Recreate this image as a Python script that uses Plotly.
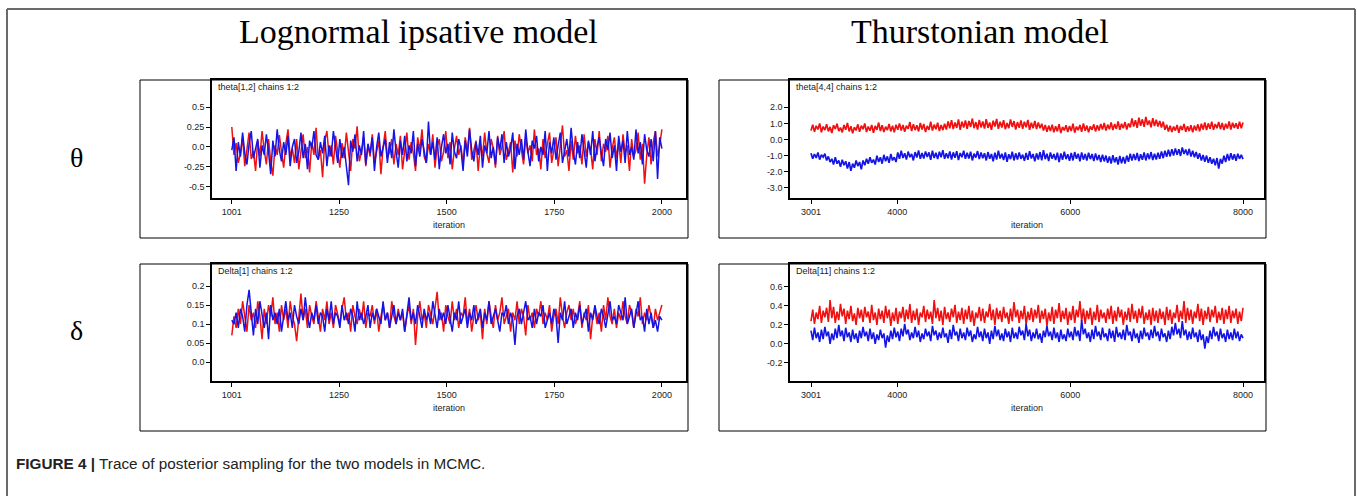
import numpy as np
import plotly.graph_objects as go

W, H = 1357, 496

# ---- thinned trace values, chain 1 = red, chain 2 = blue ----
# Lognormal ipsative model, iterations 1001-2000
theta12_chain1 = [
    0.25, -0.1, 0.05, -0.2, -0.08, 0.12, -0.24, -0.02, 0.18, -0.15,
    -0.05, -0.3, 0.08, -0.12, 0.2, -0.04, -0.22, 0.1, -0.18, -0.36,
    0.02, -0.1, 0.15, -0.06, -0.26, 0.04, 0.22, -0.12, -0.02, -0.2,
    0.1, -0.28, -0.08, 0.16, -0.14, 0.0, -0.32, 0.06, -0.1, 0.24,
    -0.16, -0.04, -0.38, 0.08, 0.2, -0.12, 0.02, -0.22, 0.14, -0.06,
    -0.26, 0.05, -0.14, 0.18, -0.1, -0.3, 0.1, -0.02, 0.26, -0.18,
    -0.06, 0.12, -0.24, 0.02, -0.12, 0.16, -0.2, -0.04, 0.08, -0.34,
    0.0, 0.2, -0.14, -0.06, 0.1, -0.22, 0.04, -0.1, 0.14, -0.28,
    -0.02, 0.18, -0.16, 0.06, -0.08, -0.3, 0.12, -0.04, 0.22, -0.12,
    -0.2, 0.04, -0.1, 0.16, -0.26, 0.0, 0.1, -0.18, -0.06, 0.2,
    -0.14, 0.06, -0.28, -0.02, 0.14, -0.1, 0.02, -0.22, 0.12, -0.06,
    0.24, -0.16, -0.04, 0.08, -0.3, 0.04, -0.12, 0.18, -0.08, -0.2,
    0.1, -0.02, -0.26, 0.14, -0.1, 0.0, 0.2, -0.16, -0.06, 0.06,
    -0.32, 0.08, -0.12, 0.16, -0.04, -0.22, 0.12, -0.08, 0.02, -0.18,
    0.22, -0.1, -0.02, -0.28, 0.1, -0.14, 0.04, 0.18, -0.2, -0.06,
    0.12, -0.24, 0.0, 0.27, -0.12, -0.04, -0.3, 0.08, -0.16, 0.14,
    -0.08, 0.02, -0.22, 0.16, -0.12, 0.06, -0.02, -0.28, 0.1, -0.1,
    0.2, -0.18, 0.04, -0.06, 0.14, -0.26, -0.02, 0.12, -0.14, 0.06,
    -0.2, 0.16, -0.08, 0.02, -0.3, 0.1, -0.12, -0.04, 0.18, -0.16,
    0.04, -0.46, -0.1, 0.12, -0.22, 0.06, 0.2, -0.12, 0.02, 0.22,
]
theta12_chain2 = [
    -0.04, 0.12, -0.3, 0.06, -0.12, 0.18, -0.08, -0.22, 0.04, 0.2,
    -0.14, -0.02, 0.1, -0.26, 0.02, -0.1, 0.16, -0.06, -0.34, 0.08,
    -0.12, 0.22, -0.04, -0.18, 0.06, -0.1, 0.14, -0.24, 0.0, 0.1,
    -0.2, -0.06, 0.18, -0.14, 0.04, -0.28, 0.08, -0.02, 0.2, -0.1,
    -0.16, 0.06, -0.08, 0.14, -0.24, 0.02, -0.12, 0.2, -0.04, -0.2,
    0.1, -0.14, 0.0, -0.26, -0.48, 0.08, -0.06, 0.16, -0.18, 0.02,
    -0.1, 0.2, -0.22, 0.04, -0.08, 0.12, -0.3, 0.0, 0.18, -0.12,
    -0.02, 0.1, -0.2, 0.06, -0.14, 0.22, -0.06, -0.26, 0.08, -0.1,
    0.14, -0.18, 0.02, -0.08, 0.2, -0.24, 0.04, -0.12, 0.1, -0.04,
    -0.2, 0.32, -0.1, 0.06, -0.16, 0.12, -0.28, 0.0, 0.16, -0.08,
    0.04, -0.22, 0.18, -0.06, -0.14, 0.1, -0.02, -0.3, 0.08, -0.12,
    0.22, -0.04, -0.18, 0.06, -0.1, 0.14, -0.26, 0.02, -0.08, 0.2,
    -0.14, 0.0, -0.22, 0.12, -0.04, 0.16, -0.2, 0.06, -0.12, -0.02,
    0.18, -0.28, 0.04, -0.1, 0.1, -0.16, 0.22, -0.06, -0.24, 0.08,
    -0.02, 0.14, -0.18, 0.0, -0.1, 0.2, -0.3, 0.06, -0.08, 0.12,
    -0.16, 0.02, 0.18, -0.2, -0.04, 0.1, -0.12, 0.24, -0.06, -0.22,
    0.06, -0.14, 0.16, -0.02, -0.26, 0.08, -0.1, 0.2, -0.18, 0.0,
    0.12, -0.08, -0.24, 0.1, -0.04, 0.18, -0.14, 0.02, -0.3, 0.14,
    -0.06, 0.08, -0.2, 0.2, -0.1, 0.0, -0.16, 0.22, -0.08, 0.06,
    -0.22, 0.16, -0.04, -0.12, 0.1, -0.18, 0.2, -0.4, 0.12, -0.02,
]
delta1_chain1 = [
    0.07, 0.12, 0.09, 0.14, 0.1, 0.16, 0.12, 0.08, 0.15, 0.11,
    0.13, 0.09, 0.16, 0.12, 0.06, 0.14, 0.1, 0.15, 0.12, 0.17,
    0.1, 0.13, 0.08, 0.15, 0.11, 0.14, 0.09, 0.16, 0.12, 0.1,
    0.055, 0.13, 0.18, 0.11, 0.14, 0.09, 0.15, 0.12, 0.1, 0.16,
    0.12, 0.08, 0.14, 0.11, 0.16, 0.1, 0.13, 0.09, 0.15, 0.12,
    0.1, 0.14, 0.17, 0.11, 0.13, 0.08, 0.15, 0.12, 0.1, 0.14,
    0.11, 0.16, 0.09, 0.13, 0.12, 0.15, 0.1, 0.14, 0.08, 0.12,
    0.15, 0.11, 0.13, 0.09, 0.16, 0.12, 0.1, 0.14, 0.11, 0.13,
    0.08, 0.12, 0.15, 0.1, 0.14, 0.045, 0.12, 0.16, 0.11, 0.13,
    0.09, 0.15, 0.12, 0.1, 0.14, 0.185, 0.11, 0.13, 0.08, 0.15,
    0.12, 0.1, 0.16, 0.11, 0.14, 0.09, 0.13, 0.12, 0.17, 0.1,
    0.14, 0.08, 0.12, 0.15, 0.11, 0.13, 0.06, 0.14, 0.1, 0.16,
    0.12, 0.09, 0.15, 0.11, 0.13, 0.17, 0.1, 0.12, 0.14, 0.08,
    0.13, 0.11, 0.16, 0.1, 0.14, 0.12, 0.07, 0.15, 0.11, 0.13,
    0.09, 0.14, 0.12, 0.16, 0.1, 0.13, 0.11, 0.15, 0.08, 0.12,
    0.14, 0.1, 0.17, 0.12, 0.09, 0.13, 0.15, 0.11, 0.14, 0.1,
    0.12, 0.16, 0.09, 0.13, 0.11, 0.15, 0.06, 0.12, 0.14, 0.1,
    0.13, 0.08, 0.15, 0.11, 0.17, 0.12, 0.1, 0.14, 0.09, 0.13,
    0.11, 0.16, 0.12, 0.1, 0.15, 0.13, 0.09, 0.14, 0.12, 0.17,
    0.1, 0.13, 0.11, 0.15, 0.12, 0.09, 0.14, 0.11, 0.13, 0.15,
]
delta1_chain2 = [
    0.11, 0.1, 0.13, 0.09, 0.14, 0.12, 0.08, 0.15, 0.19, 0.12,
    0.07, 0.14, 0.1, 0.16, 0.12, 0.09, 0.13, 0.06, 0.15, 0.11,
    0.13, 0.1, 0.14, 0.08, 0.12, 0.16, 0.11, 0.13, 0.09, 0.15,
    0.12, 0.1, 0.14, 0.11, 0.17, 0.12, 0.09, 0.13, 0.11, 0.15,
    0.1, 0.13, 0.12, 0.08, 0.14, 0.11, 0.16, 0.1, 0.13, 0.12,
    0.09, 0.15, 0.11, 0.13, 0.1, 0.14, 0.12, 0.08, 0.16, 0.11,
    0.13, 0.1, 0.12, 0.15, 0.09, 0.13, 0.11, 0.14, 0.12, 0.1,
    0.16, 0.11, 0.13, 0.09, 0.12, 0.15, 0.1, 0.13, 0.11, 0.14,
    0.08, 0.12, 0.17, 0.11, 0.13, 0.1, 0.15, 0.12, 0.09, 0.14,
    0.11, 0.13, 0.1, 0.16, 0.12, 0.09, 0.14, 0.11, 0.13, 0.1,
    0.15, 0.12, 0.08, 0.13, 0.11, 0.16, 0.1, 0.12, 0.14, 0.09,
    0.13, 0.11, 0.15, 0.1, 0.12, 0.14, 0.09, 0.13, 0.11, 0.16,
    0.1, 0.12, 0.14, 0.11, 0.08, 0.13, 0.12, 0.15, 0.1, 0.13,
    0.11, 0.045, 0.12, 0.14, 0.1, 0.13, 0.16, 0.11, 0.12, 0.09,
    0.14, 0.1, 0.13, 0.12, 0.15, 0.09, 0.11, 0.13, 0.1, 0.14,
    0.12, 0.05, 0.13, 0.11, 0.16, 0.1, 0.12, 0.14, 0.09, 0.13,
    0.11, 0.15, 0.1, 0.12, 0.14, 0.08, 0.13, 0.11, 0.15, 0.12,
    0.1, 0.14, 0.12, 0.09, 0.13, 0.16, 0.11, 0.12, 0.1, 0.15,
    0.13, 0.11, 0.17, 0.1, 0.12, 0.14, 0.09, 0.13, 0.16, 0.11,
    0.12, 0.08, 0.14, 0.1, 0.13, 0.09, 0.11, 0.08, 0.12, 0.11,
]
# Thurstonian model, iterations 3001-8000
theta44_chain1 = [
    0.55, 0.92, 0.48, 0.85, 0.62, 1.0, 0.45, 0.8, 0.58, 0.95,
    0.5, 0.78, 0.4, 0.88, 0.65, 0.98, 0.52, 0.74, 0.44, 0.9,
    0.6, 1.02, 0.5, 0.82, 0.38, 0.76, 0.56, 0.94, 0.48, 0.86,
    0.64, 0.99, 0.46, 0.8, 0.54, 0.9, 0.42, 0.84, 0.6, 1.05,
    0.52, 0.88, 0.47, 0.79, 0.58, 0.96, 0.5, 0.86, 0.44, 0.92,
    0.6, 1.0, 0.55, 0.9, 0.48, 0.85, 0.66, 1.08, 0.52, 0.94,
    0.58, 0.88, 0.5, 1.02, 0.62, 0.96, 0.46, 0.84, 0.6, 1.1,
    0.55, 0.92, 0.64, 1.04, 0.52, 0.9, 0.58, 0.98, 0.62, 1.12,
    0.7, 1.2, 0.65, 1.05, 0.72, 1.25, 0.6, 1.1, 0.74, 1.18,
    0.66, 1.15, 0.78, 1.3, 0.7, 1.08, 0.62, 1.22, 0.75, 1.12,
    0.68, 1.26, 0.72, 1.06, 0.6, 1.16, 0.8, 1.28, 0.66, 1.1,
    0.74, 1.2, 0.64, 1.02, 0.7, 1.24, 0.78, 1.14, 0.62, 1.08,
    0.72, 1.18, 0.66, 1.1, 0.76, 1.22, 0.6, 1.04, 0.7, 1.15,
    0.65, 1.06, 0.7, 0.98, 0.55, 0.9, 0.48, 0.86, 0.52, 0.92,
    0.44, 0.82, 0.5, 0.95, 0.4, 0.78, 0.56, 0.88, 0.46, 0.84,
    0.52, 0.98, 0.42, 0.8, 0.58, 0.9, 0.48, 1.0, 0.54, 0.86,
    0.45, 0.82, 0.6, 0.94, 0.5, 0.88, 0.56, 0.96, 0.62, 1.02,
    0.55, 0.92, 0.64, 1.05, 0.58, 0.96, 0.66, 1.12, 0.6, 0.98,
    0.7, 1.08, 0.62, 1.0, 0.75, 1.3, 0.8, 1.2, 0.72, 1.35,
    0.85, 1.25, 0.78, 1.4, 0.9, 1.18, 0.76, 1.32, 0.84, 1.22,
    0.8, 1.15, 0.74, 1.1, 0.6, 0.92, 0.5, 0.85, 0.46, 0.8,
    0.55, 0.9, 0.42, 0.84, 0.58, 0.96, 0.48, 0.82, 0.52, 0.88,
    0.44, 0.86, 0.56, 0.94, 0.5, 0.98, 0.62, 1.05, 0.58, 1.0,
    0.66, 1.1, 0.6, 0.96, 0.7, 1.08, 0.64, 1.02, 0.58, 0.98,
    0.68, 1.12, 0.62, 1.04, 0.72, 1.0, 0.66, 1.1, 0.7, 1.06,
]
theta44_chain2 = [
    -0.85, -1.2, -0.9, -1.15, -0.8, -1.25, -0.95, -1.1, -0.88, -1.3,
    -1.05, -1.4, -1.2, -1.55, -1.1, -1.5, -1.3, -1.7, -1.25, -1.6,
    -1.35, -1.8, -1.4, -1.95, -1.5, -1.75, -1.3, -1.65, -1.4, -1.85,
    -1.3, -1.6, -1.2, -1.5, -1.1, -1.45, -1.25, -1.55, -1.0, -1.4,
    -1.1, -1.5, -0.95, -1.35, -1.05, -1.45, -0.9, -1.3, -1.1, -1.4,
    -0.8, -1.2, -0.7, -1.15, -0.85, -1.25, -0.75, -1.1, -0.9, -1.3,
    -0.78, -1.12, -0.68, -1.2, -0.84, -1.18, -0.74, -1.08, -0.8, -1.26,
    -0.7, -1.15, -0.82, -1.22, -0.76, -1.1, -0.66, -1.2, -0.86, -1.16,
    -0.74, -1.24, -0.8, -1.14, -0.72, -1.28, -0.84, -1.1, -0.7, -1.2,
    -0.82, -1.18, -0.76, -1.3, -0.88, -1.12, -0.72, -1.22, -0.8, -1.16,
    -0.85, -1.3, -0.78, -1.2, -0.9, -1.35, -0.82, -1.25, -0.7, -1.18,
    -0.88, -1.28, -0.8, -1.38, -0.92, -1.22, -0.76, -1.3, -0.86, -1.24,
    -0.8, -1.2, -0.94, -1.32, -0.84, -1.26, -0.72, -1.18, -0.9, -1.36,
    -0.86, -1.24, -0.78, -1.3, -0.66, -1.22, -0.88, -1.34, -0.8, -1.2,
    -0.9, -1.28, -0.82, -1.4, -0.86, -1.26, -0.76, -1.22, -0.92, -1.32,
    -0.84, -1.3, -0.78, -1.2, -0.88, -1.36, -0.8, -1.25, -0.9, -1.3,
    -0.82, -1.22, -0.9, -1.34, -0.86, -1.28, -0.96, -1.4, -0.94, -1.36,
    -1.0, -1.45, -1.05, -1.5, -0.98, -1.42, -1.1, -1.55, -1.02, -1.48,
    -1.08, -1.5, -1.0, -1.38, -0.88, -1.3, -0.9, -1.28, -0.84, -1.34,
    -0.92, -1.26, -0.8, -1.3, -0.86, -1.22, -0.78, -1.28, -0.88, -1.24,
    -0.82, -1.2, -0.74, -1.16, -0.7, -1.08, -0.64, -1.05, -0.6, -1.0,
    -0.55, -0.95, -0.6, -1.02, -0.5, -0.9, -0.62, -0.98, -0.58, -1.06,
    -0.7, -1.1, -0.78, -1.2, -0.86, -1.3, -0.96, -1.38, -1.0, -1.45,
    -1.1, -1.5, -1.2, -1.6, -1.15, -1.8, -1.2, -1.5, -1.0, -1.4,
    -0.9, -1.3, -0.85, -1.25, -0.92, -1.32, -0.88, -1.2, -0.95, -1.22,
]
delta11_chain1 = [
    0.24, 0.36, 0.21, 0.33, 0.26, 0.4, 0.22, 0.35, 0.28, 0.38,
    0.23, 0.46, 0.27, 0.39, 0.22, 0.34, 0.25, 0.42, 0.29, 0.37,
    0.21, 0.35, 0.26, 0.4, 0.24, 0.32, 0.2, 0.38, 0.27, 0.36,
    0.23, 0.39, 0.28, 0.34, 0.22, 0.41, 0.25, 0.33, 0.2, 0.37,
    0.26, 0.35, 0.22, 0.4, 0.27, 0.36, 0.19, 0.33, 0.24, 0.38,
    0.21, 0.34, 0.27, 0.39, 0.23, 0.36, 0.26, 0.42, 0.22, 0.35,
    0.25, 0.37, 0.2, 0.33, 0.28, 0.4, 0.23, 0.36, 0.26, 0.34,
    0.21, 0.46, 0.27, 0.38, 0.24, 0.35, 0.2, 0.39, 0.26, 0.33,
    0.23, 0.37, 0.28, 0.41, 0.22, 0.34, 0.25, 0.38, 0.21, 0.36,
    0.26, 0.4, 0.23, 0.35, 0.19, 0.33, 0.27, 0.39, 0.24, 0.37,
    0.22, 0.34, 0.28, 0.42, 0.25, 0.36, 0.2, 0.38, 0.26, 0.35,
    0.23, 0.39, 0.27, 0.33, 0.21, 0.37, 0.24, 0.44, 0.28, 0.36,
    0.22, 0.35, 0.26, 0.4, 0.2, 0.34, 0.25, 0.38, 0.23, 0.36,
    0.27, 0.41, 0.22, 0.35, 0.26, 0.37, 0.19, 0.33, 0.24, 0.39,
    0.21, 0.36, 0.27, 0.43, 0.23, 0.35, 0.26, 0.38, 0.2, 0.34,
    0.25, 0.4, 0.22, 0.36, 0.28, 0.45, 0.24, 0.37, 0.21, 0.35,
    0.26, 0.38, 0.2, 0.34, 0.25, 0.41, 0.23, 0.36, 0.27, 0.33,
    0.22, 0.37, 0.26, 0.4, 0.21, 0.35, 0.24, 0.39, 0.28, 0.36,
    0.2, 0.34, 0.25, 0.38, 0.23, 0.42, 0.26, 0.35, 0.22, 0.37,
    0.27, 0.4, 0.21, 0.33, 0.25, 0.36, 0.2, 0.38, 0.24, 0.35,
    0.22, 0.37, 0.26, 0.34, 0.2, 0.39, 0.25, 0.36, 0.21, 0.33,
    0.27, 0.41, 0.23, 0.35, 0.26, 0.45, 0.22, 0.38, 0.25, 0.36,
    0.21, 0.34, 0.27, 0.42, 0.24, 0.37, 0.2, 0.35, 0.26, 0.39,
    0.23, 0.36, 0.28, 0.4, 0.22, 0.34, 0.25, 0.38, 0.21, 0.36,
    0.26, 0.4, 0.22, 0.35, 0.27, 0.37, 0.21, 0.34, 0.24, 0.38,
]
delta11_chain2 = [
    0.14, 0.04, 0.17, 0.06, 0.12, 0.02, 0.15, 0.05, 0.18, 0.08,
    0.13, 0.0, 0.11, 0.04, 0.16, 0.06, 0.2, 0.08, 0.14, 0.03,
    0.17, 0.07, 0.12, 0.02, 0.15, 0.05, 0.11, 0.01, 0.14, 0.06,
    0.18, 0.08, 0.13, 0.03, 0.16, 0.05, 0.12, 0.0, 0.1, 0.04,
    0.15, 0.06, 0.11, -0.04, 0.09, 0.02, 0.14, 0.05, 0.17, 0.07,
    0.13, 0.03, 0.16, 0.08, 0.21, 0.1, 0.15, 0.04, 0.12, 0.06,
    0.18, 0.07, 0.14, 0.02, 0.11, 0.05, 0.16, 0.08, 0.13, 0.03,
    0.19, 0.09, 0.14, 0.04, 0.12, 0.06, 0.17, 0.07, 0.11, 0.01,
    0.15, 0.05, 0.2, 0.09, 0.13, 0.03, 0.16, 0.06, 0.12, 0.04,
    0.17, 0.08, 0.14, 0.02, 0.1, 0.05, 0.18, 0.07, 0.13, 0.03,
    0.16, 0.06, 0.12, 0.0, 0.14, 0.05, 0.19, 0.08, 0.15, 0.04,
    0.11, 0.03, 0.16, 0.07, 0.13, 0.02, 0.17, 0.06, 0.12, 0.05,
    0.18, 0.09, 0.14, 0.04, 0.21, 0.08, 0.15, 0.03, 0.12, 0.06,
    0.16, 0.05, 0.11, 0.01, 0.14, 0.07, 0.19, 0.08, 0.13, 0.04,
    0.17, 0.06, 0.12, 0.02, 0.15, 0.05, 0.1, 0.03, 0.16, 0.07,
    0.13, 0.04, 0.18, 0.08, 0.14, 0.03, 0.25, 0.1, 0.16, 0.06,
    0.12, 0.02, 0.15, 0.05, 0.19, 0.08, 0.13, 0.04, 0.17, 0.07,
    0.11, 0.03, 0.16, 0.06, 0.14, 0.02, 0.18, 0.07, 0.12, 0.05,
    0.15, 0.04, 0.2, 0.09, 0.13, 0.03, 0.16, 0.06, 0.11, 0.01,
    0.14, 0.05, 0.17, 0.08, 0.12, 0.04, 0.15, 0.06, 0.19, 0.08,
    0.13, 0.03, 0.16, 0.07, 0.11, 0.02, 0.14, 0.05, 0.18, 0.09,
    0.22, 0.1, 0.16, 0.06, 0.24, 0.09, 0.15, 0.04, 0.13, 0.05,
    0.17, 0.07, 0.12, 0.02, 0.15, 0.04, 0.1, -0.05, 0.08, 0.01,
    0.14, 0.05, 0.18, 0.08, 0.13, 0.03, 0.16, 0.06, 0.11, 0.02,
    0.15, 0.05, 0.12, 0.04, 0.16, 0.06, 0.13, 0.03, 0.1, 0.06,
]

# iteration windows of the two samplers
ipsative_iter = (1001, 2000)
thurstone_iter = (3001, 8000)

ipsative_xticks = [1001, 1250, 1500, 1750, 2000]
thurstone_xticks = [3001, 4000, 6000, 8000]

theta12_yticks = [0.5, 0.25, 0.0, -0.25, -0.5]
theta12_ylabels = ["0.5", "0.25", "0.0", "-0.25", "-0.5"]
theta44_yticks = [2.0, 1.0, 0.0, -1.0, -2.0, -3.0]
theta44_ylabels = ["2.0", "1.0", "0.0", "-1.0", "-2.0", "-3.0"]
delta1_yticks = [0.2, 0.15, 0.1, 0.05, 0.0]
delta1_ylabels = ["0.2", "0.15", "0.1", "0.05", "0.0"]
delta11_yticks = [0.6, 0.4, 0.2, 0.0, -0.2]
delta11_ylabels = ["0.6", "0.4", "0.2", "0.0", "-0.2"]

column_titles = ["Lognormal ipsative model", "Thurstonian model"]
row_labels = ["θ", "δ"]
panel_titles = ["theta[1,2] chains 1:2", "theta[4,4] chains 1:2",
                "Delta[1] chains 1:2", "Delta[11] chains 1:2"]
caption = "<b>FIGURE 4 |</b> Trace of posterior sampling for the two models in MCMC."

RED = "#f01010"
BLUE = "#1414e6"


def px(x):
    return x / W


def py(y):
    return 1 - y / H


# panel geometry in pixels: plot box (left, right, top, bottom) and frame
panels = [
    dict(chains=(theta12_chain1, theta12_chain2), iters=ipsative_iter,
         xr=[955, 2056], yr=[-0.64, 0.84], xt=ipsative_xticks,
         yt=theta12_yticks, yl=theta12_ylabels, lw=1.5,
         box=(212, 686, 80, 198), outer=(140, 688, 80, 238)),
    dict(chains=(theta44_chain1, theta44_chain2), iters=thurstone_iter,
         xr=[2758, 8243], yr=[-3.63, 3.69], xt=thurstone_xticks,
         yt=theta44_yticks, yl=theta44_ylabels, lw=1.7,
         box=(790, 1264, 80, 198), outer=(719, 1266, 80, 238)),
    dict(chains=(delta1_chain1, delta1_chain2), iters=ipsative_iter,
         xr=[955, 2056], yr=[-0.05, 0.258], xt=ipsative_xticks,
         yt=delta1_yticks, yl=delta1_ylabels, lw=1.5,
         box=(212, 686, 264, 381), outer=(140, 688, 264, 431)),
    dict(chains=(delta11_chain1, delta11_chain2), iters=thurstone_iter,
         xr=[2758, 8243], yr=[-0.39, 0.84], xt=thurstone_xticks,
         yt=delta11_yticks, yl=delta11_ylabels, lw=1.6,
         box=(790, 1264, 264, 381), outer=(719, 1266, 264, 431)),
]

fig = go.Figure()
shapes = []
annotations = []
tick_font = dict(family="Liberation Sans, Arial", size=9, color="#222")

for i, p in enumerate(panels, start=1):
    xa = "x" if i == 1 else f"x{i}"
    ya = "y" if i == 1 else f"y{i}"
    for values, color in zip(p["chains"], (RED, BLUE)):
        it = np.linspace(p["iters"][0], p["iters"][1], len(values))
        fig.add_trace(go.Scatter(x=it, y=values, mode="lines", xaxis=xa, yaxis=ya,
                                 line=dict(color=color, width=p["lw"]), showlegend=False,
                                 hoverinfo="skip"))
    l, r, t, b = p["box"]
    axis_common = dict(showline=True, linecolor="black", linewidth=1.6, mirror=True,
                       ticks="outside", ticklen=4, tickwidth=1, tickcolor="black",
                       showgrid=False, zeroline=False, tickfont=tick_font)
    fig.update_layout(**{
        ("xaxis" if i == 1 else f"xaxis{i}"): dict(
            domain=[px(l), px(r)], anchor=ya, range=p["xr"],
            tickvals=p["xt"], ticktext=[str(v) for v in p["xt"]], **axis_common),
        ("yaxis" if i == 1 else f"yaxis{i}"): dict(
            domain=[py(b), py(t)], anchor=xa, range=p["yr"],
            tickvals=p["yt"], ticktext=p["yl"], **axis_common),
    })
    ol, orr, ot, ob = p["outer"]
    shapes.append(dict(type="rect", xref="paper", yref="paper",
                       x0=px(ol), x1=px(orr), y0=py(ob), y1=py(ot),
                       line=dict(color="black", width=1)))
    annotations.append(dict(text=panel_titles[i - 1], xref="paper", yref="paper",
                            x=px(l + 4), y=py(t + 7), xanchor="left", yanchor="middle",
                            showarrow=False, font=tick_font))
    annotations.append(dict(text="iteration", xref="paper", yref="paper",
                            x=px((l + r) / 2), y=py(b + 27), xanchor="center",
                            yanchor="middle", showarrow=False, font=tick_font))

# column headings and row symbols
for txt, cx in zip(column_titles, (418, 980)):
    annotations.append(dict(text=txt, xref="paper", yref="paper", x=px(cx), y=py(31),
                            xanchor="center", yanchor="middle", showarrow=False,
                            font=dict(family="Liberation Serif, Times New Roman",
                                      size=34, color="black")))
for txt, cy in zip(row_labels, (157, 330)):
    annotations.append(dict(text=txt, xref="paper", yref="paper", x=px(76), y=py(cy),
                            xanchor="center", yanchor="middle", showarrow=False,
                            font=dict(family="Liberation Serif, Times New Roman",
                                      size=28, color="black")))

annotations.append(dict(text=caption, xref="paper", yref="paper", x=px(14), y=py(463),
                        xanchor="left", yanchor="middle", showarrow=False,
                        font=dict(family="Liberation Sans, Arial", size=15.3, color="#222")))

# figure frame: top, left and right rules
frame = dict(color="#6a6a6a", width=2)
shapes += [
    dict(type="line", xref="paper", yref="paper", x0=px(7), x1=px(1355), y0=py(9), y1=py(9), line=frame),
    dict(type="line", xref="paper", yref="paper", x0=px(7), x1=px(7), y0=py(9), y1=0, line=frame),
    dict(type="line", xref="paper", yref="paper", x0=px(1355), x1=px(1355), y0=py(9), y1=0, line=frame),
]

fig.update_layout(width=W, height=H, margin=dict(l=0, r=0, t=0, b=0),
                  paper_bgcolor="white", plot_bgcolor="white",
                  shapes=shapes, annotations=annotations)

fig.write_html("out.html")
